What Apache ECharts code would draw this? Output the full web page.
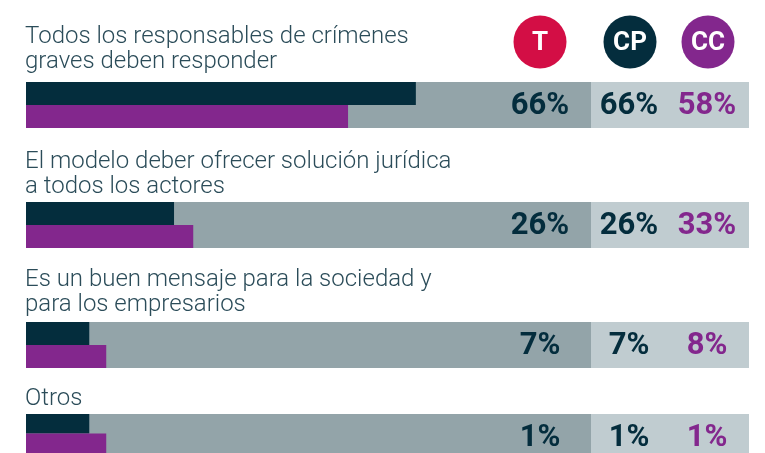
<!DOCTYPE html>
<html>
<head>
<meta charset="utf-8">
<script src="https://cdn.jsdelivr.net/npm/echarts@6/dist/echarts.min.js"></script>
<style>
	html, body { margin: 0; padding: 0; background: #fff; }
	#chart { width: 765px; height: 453px; }
</style>
</head>
<body>
<div id="chart"></div>
<script>
// data
const categories = [
	'Todos los responsables de crímenes\ngraves deben responder',
	'El modelo deber ofrecer solución jurídica\na todos los actores',
	'Es un buen mensaje para la sociedad y\npara los empresarios',
	'Otros'
]
const columns = ['T', 'CP', 'CC']
const labelsT = ['66%', '26%', '7%', '1%']
const labelsCP = ['66%', '26%', '7%', '1%']
const labelsCC = ['58%', '33%', '8%', '1%']
// bar lengths as drawn (percent of the dark band)
const barsCP = [69, 26.2, 11.2, 11.2]
const barsCC = [57, 29.6, 14.2, 14.2]

// layout
const bandLeft = 26
const bandWidth = 565
const lightRight = 749
const bandH = 46
const bandTops = [82, 202, 322, 414]
const titleTops = [24, 149, 267, 386]
const colX = [540, 629, 707]
const circleY = 42
const circleX = [540, 630, 708]
const circleColors = ['#d30e45', '#042d3d', '#83278d']
const navy = '#042d3d'
const purple = '#83278d'
const textColor = '#2b4c59'

let grids = [], xAxes = [], yAxes = [], series = [], graphics = []
bandTops.forEach((top, i) => {
	grids.push({ left: bandLeft, top: top, width: bandWidth, height: bandH, show: true, backgroundColor: '#93a4a9', borderWidth: 0 })
	xAxes.push({ type: 'value', gridIndex: i, min: 0, max: 100, show: false })
	yAxes.push({ type: 'category', gridIndex: i, data: ['CP', 'CC'], inverse: true, show: false })
	series.push({
		type: 'bar', xAxisIndex: i, yAxisIndex: i, barWidth: '100%', silent: true,
		data: [
			{ value: barsCP[i], itemStyle: { color: navy } },
			{ value: barsCC[i], itemStyle: { color: purple } }
		]
	})
	graphics.push({
		type: 'rect', shape: { x: bandLeft + bandWidth, y: top, width: lightRight - bandLeft - bandWidth, height: bandH },
		style: { fill: '#c0ccd0' }, z: -1
	})
	graphics.push({
		type: 'text', x: bandLeft - 1, y: titleTops[i],
		style: { text: categories[i], font: '300 24px Roboto', lineHeight: 25, fill: textColor, verticalAlign: 'top' }
	})
	const cy = top + bandH / 2 + 1
	const vals = [labelsT[i], labelsCP[i], labelsCC[i]]
	const cols = [navy, navy, purple]
	vals.forEach((v, k) => {
		graphics.push({
			type: 'text', x: colX[k], y: cy, z: 10,
			style: { text: v, font: 'bold 31px Roboto', fill: cols[k], align: 'center', verticalAlign: 'middle' }
		})
	})
})
columns.forEach((c, k) => {
	graphics.push({ type: 'circle', shape: { cx: circleX[k], cy: circleY, r: 26.5 }, style: { fill: circleColors[k] } })
	graphics.push({
		type: 'text', x: circleX[k], y: circleY + 1,
		style: { text: c, font: 'bold 26px Roboto', fill: '#fff', align: 'center', verticalAlign: 'middle' }
	})
})

const myChart = echarts.init(document.getElementById('chart'))
myChart.setOption({
	animation: false,
	grid: grids,
	xAxis: xAxes,
	yAxis: yAxes,
	series: series,
	graphic: graphics
})
</script>
</body>
</html>
